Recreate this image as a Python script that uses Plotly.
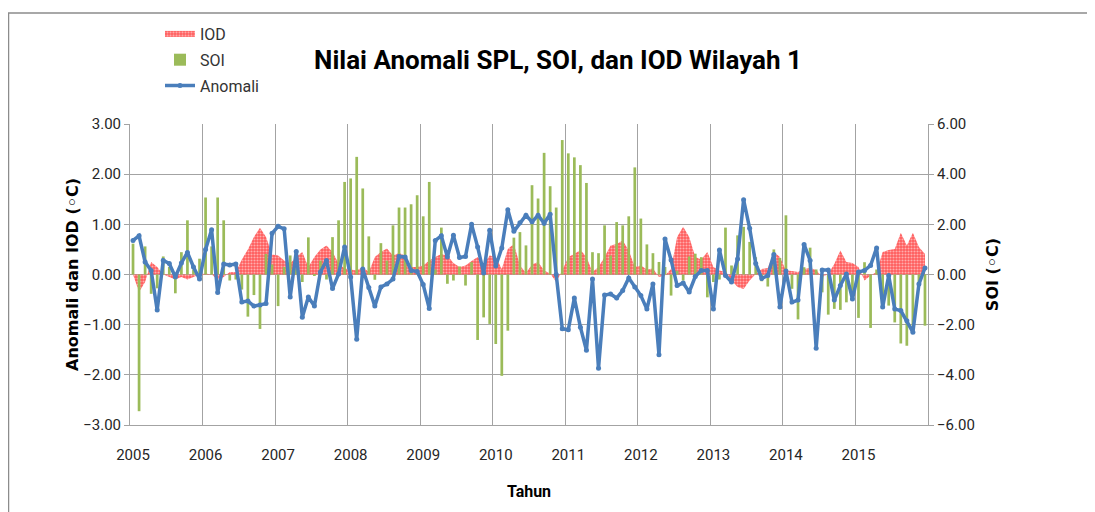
import plotly.graph_objects as go

YEARS = [str(y) for y in range(2005, 2016)]

ANOMALI = [
    0.68, 0.77, 0.25, 0.08, -0.71, 0.28, 0.22, -0.05, 0.23, 0.44, 0.15, -0.09,
    0.50, 0.89, -0.36, 0.21, 0.19, 0.21, -0.55, -0.53, -0.63, -0.61, -0.58, 0.82,
    0.96, 0.91, -0.45, 0.46, -0.85, -0.45, -0.63, 0.05, 0.28, -0.28, 0.01, 0.55,
    -0.05, -1.29, 0.11, -0.26, -0.63, -0.25, -0.19, -0.09, 0.36, 0.35, 0.08, 0.06,
    -0.20, -0.68, 0.68, 0.77, 0.35, 0.78, 0.34, 0.36, 1.00, 0.55, 0.03, 0.88,
    0.17, 0.53, 1.29, 0.86, 1.03, 1.18, 1.05, 1.18, 1.02, 1.20, 0.00, -1.08,
    -1.10, -0.47, -1.05, -1.51, -0.09, -1.87, -0.41, -0.39, -0.47, -0.32, -0.07, -0.25,
    -0.42, -0.69, -0.19, -1.60, 0.71, 0.29, -0.22, -0.17, -0.35, -0.04, 0.08, 0.08,
    -0.69, 0.49, -0.02, -0.15, 0.31, 1.49, 0.92, 0.22, -0.08, -0.02, 0.40, -0.65,
    0.07, -0.55, -0.51, 0.60, 0.28, -1.47, 0.09, 0.09, -0.51, -0.22, 0.01, -0.49,
    0.05, 0.08, 0.18, 0.53, -0.65, -0.02, -0.69, -0.72, -0.92, -1.15, -0.19, 0.13,
]

SOI = [
    1.23, -5.45, 1.12, -0.77, -0.55, 0.72, 0.30, -0.75, 0.89, 2.16, 0.20, 0.63,
    3.07, 1.12, 3.07, 2.16, -0.24, -0.20, -0.60, -1.68, -0.82, -2.17, 0.82, 0.40,
    -1.26, 0.30, 0.76, 0.40, -0.30, 1.48, -0.06, 0.55, -0.20, 1.49, 2.16, 3.69,
    3.83, 4.69, 3.43, 1.52, -0.21, 1.25, 0.55, 1.96, 2.67, 2.67, 2.80, 3.16,
    2.32, 3.69, 0.20, 1.87, -0.37, -0.24, 0.32, -0.44, 0.49, -2.61, -1.71, -1.97,
    -2.77, -4.04, -2.24, 1.47, 1.69, 1.16, 3.56, 3.03, 4.85, 3.52, 2.67, 5.36,
    4.83, 4.67, 4.36, 3.65, 0.89, 0.85, 1.96, 0.76, 2.09, 1.96, 2.32, 4.27,
    2.23, 1.20, 0.85, 0.50, 0.30, -0.84, 0.15, -0.24, 0.72, 0.83, 0.69, -0.91,
    -0.30, -0.20, 1.87, 0.36, 1.56, 1.90, 1.30, 0.69, -0.27, -0.48, 1.00, 0.66,
    2.36, -0.57, -1.79, 0.29, 1.07, 0.20, -0.71, -1.60, -1.37, -1.41, -1.11, -0.71,
    -1.73, 0.49, -2.13, 0.20, -0.91, -1.24, -1.91, -2.75, -2.84, -2.31, -0.40, -2.04,
]

IOD = [
    0.00, -0.35, -0.15, 0.25, 0.15, 0.00, -0.05, -0.10, -0.05, -0.10, -0.05, 0.00,
    0.02, 0.00, -0.10, -0.05, 0.05, 0.05, 0.30, 0.50, 0.75, 0.93, 0.75, 0.40,
    0.38, 0.28, 0.22, 0.35, 0.45, 0.15, 0.35, 0.50, 0.58, 0.45, 0.22, 0.12,
    0.10, 0.08, 0.15, 0.05, 0.35, 0.45, 0.52, 0.38, 0.43, 0.38, 0.15, 0.15,
    0.18, 0.28, 0.35, 0.41, 0.38, 0.23, 0.15, 0.18, 0.27, 0.35, 0.21, 0.38,
    0.35, 0.11, 0.51, 0.61, 0.18, 0.03, 0.20, 0.25, 0.08, 0.02, -0.15, 0.08,
    0.35, 0.41, 0.49, 0.35, 0.05, 0.15, 0.35, 0.58, 0.61, 0.68, 0.48, 0.15,
    0.18, 0.10, 0.12, -0.05, -0.02, 0.11, 0.75, 0.95, 0.75, 0.35, 0.30, 0.45,
    0.15, 0.08, 0.05, -0.12, -0.25, -0.29, -0.12, 0.01, 0.11, 0.13, 0.45, 0.35,
    0.08, 0.07, 0.05, 0.11, 0.13, 0.09, -0.05, 0.01, 0.21, 0.48, 0.25, 0.23,
    0.15, -0.12, -0.02, 0.05, 0.45, 0.49, 0.51, 0.83, 0.58, 0.83, 0.55, 0.41,
]

months = list(range(len(ANOMALI)))

NARROW = "Roboto, sans-serif"
WIDE = "DejaVu Sans, Verdana, sans-serif"
GRID = "#a3a3a3"
BLUE = "#4a7ebb"

fig = go.Figure()
fig.add_trace(go.Scatter(
    x=months, y=IOD, name="IOD", mode="none", fill="tozeroy",
    fillcolor="#ff6b6b",
    fillpattern=dict(shape=".", fgcolor="#ffffff", bgcolor="#ff5c5c", size=3, solidity=0.4),
    yaxis="y", legendgroup="a",
))
fig.add_trace(go.Bar(
    x=months, y=SOI, name="SOI", marker=dict(color="#9bbb59", line=dict(width=0)),
    width=0.45, yaxis="y2", legendgroup="b",
))
fig.add_trace(go.Scatter(
    x=months, y=ANOMALI, name="Anomali", mode="lines+markers",
    line=dict(color=BLUE, width=3.5), marker=dict(size=5, color=BLUE),
    yaxis="y3", legendgroup="c",
))

# the page body has an 8px margin, so the figure is offset by 8px
OFF = 8
W, H = 1095 - OFF, 512 - OFF
L, R, T, B = 130 - OFF, 928 - OFF, 124 - OFF, 425 - OFF
PW, PH = R - L, B - T

fig.update_layout(
    width=W, height=H, autosize=False,
    margin=dict(l=L, r=W - R, t=T, b=H - B, pad=0, autoexpand=False),
    paper_bgcolor="white", plot_bgcolor="white",
    barmode="overlay",
    showlegend=True,
    title=dict(
        text="<b>Nilai Anomali SPL, SOI, dan IOD Wilayah 1</b>",
        x=(558 - OFF - L) / PW, xref="paper", xanchor="center",
        y=1 - (60 - OFF) / H, yref="container", yanchor="middle",
        font=dict(family=NARROW, size=26, color="black"),
    ),
    legend=dict(
        x=(152 - L) / PW, y=(B - 9) / PH, xanchor="left", yanchor="top",
        font=dict(family=NARROW, size=16, color="#333333"),
        bgcolor="rgba(0,0,0,0)", traceorder="grouped", tracegroupgap=2,
    ),
    xaxis=dict(
        range=[-0.5, len(months) - 0.5],
        tickmode="array",
        tickvals=[12 * k for k in range(len(YEARS))],
        ticktext=YEARS,
        showgrid=False, zeroline=False,
        ticks="outside", ticklen=16, tickcolor="rgba(0,0,0,0)",
        showline=True, linecolor=GRID, linewidth=1,
        minor=dict(
            tickmode="array",
            tickvals=[12 * k - 0.5 for k in range(len(YEARS) + 1)],
            showgrid=True, gridcolor=GRID, gridwidth=1, ticks="",
        ),
        tickfont=dict(family=NARROW, size=15, color="#262626"),
        title=dict(text="<b>Tahun</b>", font=dict(family=NARROW, size=16, color="black"), standoff=22),
    ),
    yaxis=dict(
        range=[-3, 3], dtick=1, tickformat=".2f",
        showgrid=True, gridcolor=GRID, gridwidth=1, zeroline=False,
        showline=True, linecolor=GRID, linewidth=1,
        ticks="outside", ticklen=5, tickcolor=GRID,
        tickfont=dict(family=NARROW, size=15, color="#262626"),
        title=dict(text="<b>Anomali dan IOD (◦C)</b>", font=dict(family=WIDE, size=16, color="black"), standoff=0),
    ),
    yaxis2=dict(
        overlaying="y", side="right", anchor="x",
        range=[-6, 6], dtick=2, tickformat=".2f",
        showgrid=False, zeroline=False,
        showline=True, linecolor=GRID, linewidth=1,
        ticks="outside", ticklen=5, tickcolor=GRID,
        tickfont=dict(family=NARROW, size=15, color="#262626"),
        title=dict(text="<b>SOI (◦C)</b>", font=dict(family=WIDE, size=16, color="black"), standoff=12),
    ),
    yaxis3=dict(overlaying="y", range=[-3, 3], visible=False),
    shapes=[dict(
        type="rect", xref="paper", yref="paper", layer="below",
        x0=(0.5 - L) / PW, x1=(W + 20 - L) / PW,
        y0=(B - (H + 20)) / PH, y1=(B - 5) / PH,
        line=dict(color="#8c8c8c", width=1.5), fillcolor="white",
    )],
)

fig.write_html("out.html")
